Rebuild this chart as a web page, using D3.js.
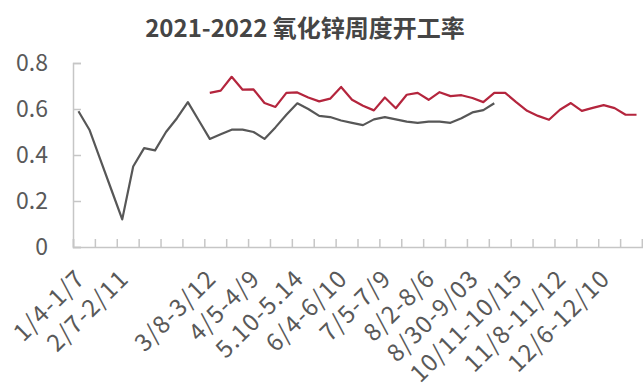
<!DOCTYPE html>
<html>
<head>
<meta charset="utf-8">
<script src="https://cdn.jsdelivr.net/npm/d3@7/dist/d3.min.js"></script>
<style>
  html, body { margin: 0; padding: 0; background: #fff; }
  svg { display: block; }
  text { font-family: "Noto Sans CJK SC", "Noto Sans", sans-serif; }
</style>
</head>
<body>
<svg id="chart" width="643" height="388"></svg>
<script>
// Weekly zinc-oxide operating rate, 52 weeks per year (null = no data that week)
const weekCount = 52;
const labelStep = 4;
const weekLabels = ["1/4-1/7", "2/7-2/11", "", "3/8-3/12", "4/5-4/9", "5.10-5.14", "6/4-6/10",
  "7/5-7/9", "8/2-8/6", "8/30-9/03", "10/11-10/15", "11/8-11/12", "12/6-12/10"];
const yTicks = [0, 0.2, 0.4, 0.6, 0.8];

const rate2021 = [0.59, 0.51, 0.38, 0.25, 0.12, 0.35, 0.43, 0.42, 0.50, 0.56,
  0.63, 0.55, 0.47, 0.49, 0.51, 0.51, 0.50, 0.47, 0.52, 0.575,
  0.625, 0.60, 0.57, 0.565, 0.55, 0.54, 0.53, 0.555, 0.565, 0.555,
  0.545, 0.54, 0.545, 0.545, 0.54, 0.56, 0.585, 0.595, 0.625,
  null, null, null, null, null, null, null, null, null, null, null, null, null];

const rate2022 = [null, null, null, null, null, null, null, null, null, null, null, null,
  0.67, 0.68, 0.74, 0.684, 0.685, 0.626, 0.609, 0.67, 0.672, 0.65,
  0.633, 0.645, 0.696, 0.64, 0.614, 0.594, 0.65, 0.603, 0.662, 0.67,
  0.64, 0.673, 0.656, 0.66, 0.648, 0.63, 0.67, 0.67, 0.63, 0.592,
  0.57, 0.553, 0.597, 0.626, 0.592, 0.605, 0.617, 0.604, 0.575, 0.575];

const svg = d3.select("#chart");
const plot = { left: 73, right: 642, top: 63, bottom: 247 };

const x = d3.scaleLinear().domain([0, weekCount]).range([plot.left, plot.right]);
const y = d3.scaleLinear().domain([0, 0.8]).range([plot.bottom, plot.top]);
const cx = i => x(i + 0.5);

const axisColor = "#c6c6c6";
const textColor = "#595959";

// Title
svg.append("text")
  .attr("x", 305).attr("y", 37)
  .attr("text-anchor", "middle")
  .attr("font-size", 24).attr("font-weight", "bold")
  .attr("fill", "#454545")
  .text("2021-2022 氧化锌周度开工率");

// Y axis, ticks pointing into the plot
const yAxis = svg.append("g")
  .attr("transform", `translate(${plot.left},0)`)
  .call(d3.axisLeft(y).tickValues(yTicks).tickSize(-8).tickPadding(25)
    .tickFormat(d => d === 0 ? "0" : d.toFixed(1)));
yAxis.select(".domain").attr("stroke", axisColor).attr("stroke-width", 1.5);
yAxis.selectAll(".tick line").attr("stroke", axisColor).attr("stroke-width", 1.5);
yAxis.selectAll(".tick text").attr("font-size", 23).attr("fill", textColor)
  .attr("font-family", "'Noto Sans CJK SC', sans-serif");

// X axis: a tick between every second week, also pointing inward
const xAxis = svg.append("g")
  .attr("transform", `translate(0,${plot.bottom})`)
  .call(d3.axisBottom(x).tickValues(d3.range(0, weekCount + 1, 2)).tickSize(-8).tickFormat(""));
xAxis.select(".domain").attr("stroke", axisColor).attr("stroke-width", 1.5);
xAxis.selectAll(".tick line").attr("stroke", axisColor).attr("stroke-width", 1.5);

// Week labels, every fourth week, slanted
svg.append("g").selectAll("text")
  .data(weekLabels)
  .join("text")
  .attr("transform", (d, k) => `translate(${cx(k * labelStep) + 2},${plot.bottom + 27}) rotate(-45)`)
  .attr("text-anchor", "end")
  .attr("dy", "0.35em")
  .attr("font-size", 24)
  .attr("letter-spacing", 1.2)
  .attr("fill", textColor)
  .text(d => d);

// Series lines
const line = d3.line()
  .defined(d => d != null)
  .x((d, i) => cx(i))
  .y(d => y(d));

svg.append("path")
  .datum(rate2021)
  .attr("d", line)
  .attr("fill", "none")
  .attr("stroke", "#575757")
  .attr("stroke-width", 2.2)
  .attr("stroke-linejoin", "round");

svg.append("path")
  .datum(rate2022)
  .attr("d", line)
  .attr("fill", "none")
  .attr("stroke", "#b4253d")
  .attr("stroke-width", 2.2)
  .attr("stroke-linejoin", "round");
</script>
</body>
</html>
